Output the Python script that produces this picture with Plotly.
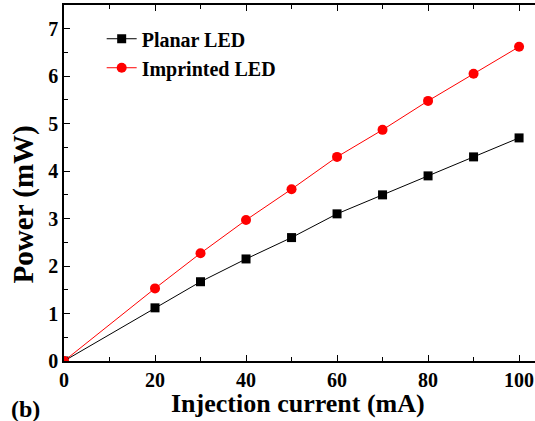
import plotly.graph_objects as go

current = [0, 20, 30, 40, 50, 60, 70, 80, 90, 100]
planar = [0, 1.12, 1.67, 2.15, 2.60, 3.10, 3.50, 3.90, 4.30, 4.70]
imprinted = [0, 1.53, 2.27, 2.97, 3.62, 4.30, 4.87, 5.48, 6.05, 6.62]
font = "Liberation Serif"

fig = go.Figure()
fig.add_trace(go.Scatter(x=current, y=planar, mode="lines+markers", name="<b>Planar LED</b>",
                         line=dict(color="black", width=1),
                         marker=dict(symbol="square", size=9, color="black")))
fig.add_trace(go.Scatter(x=current, y=imprinted, mode="lines+markers", name="<b>Imprinted LED</b>",
                         line=dict(color="red", width=1),
                         marker=dict(symbol="circle", size=10, color="red")))

axis_common = dict(showline=True, linecolor="black", linewidth=1.5,
                   ticks="inside", ticklen=6, tickwidth=1.2, tickcolor="black",
                   showgrid=False, zeroline=False,
                   tickfont=dict(family=font, size=20, color="black"))
fig.update_xaxes(range=[0, 103.5], tick0=0, dtick=20, mirror="ticks",
                 minor=dict(ticks="inside", ticklen=4, dtick=10, tickcolor="black"),
                 tickprefix="<b>", ticksuffix="</b>", **axis_common)
fig.update_yaxes(range=[0, 7.5], tick0=0, dtick=1, mirror=False,
                 minor=dict(ticks="inside", ticklen=4, dtick=0.5, tickcolor="black"),
                 tickprefix="<b>", ticksuffix="</b>", **axis_common)

fig.add_annotation(text="<b>Injection current (mA)</b>", xref="paper", yref="paper", x=0.496, y=-0.118,
                   xanchor="center", yanchor="middle", showarrow=False,
                   font=dict(family=font, size=26, color="black"))
fig.add_annotation(text="<b>Power (mW)</b>", xref="paper", yref="paper", x=-0.087, y=0.44,
                   xanchor="center", yanchor="middle", showarrow=False, textangle=-90,
                   font=dict(family=font, size=29, color="black"))
fig.add_annotation(text="<b>(b)</b>", xref="paper", yref="paper", x=-0.117, y=-0.092,
                   xanchor="left", yanchor="top", showarrow=False,
                   font=dict(family=font, size=24, color="black"))

fig.update_layout(width=535, height=421, margin=dict(l=64, r=0, t=5, b=60),
                  plot_bgcolor="white", paper_bgcolor="white", showlegend=True,
                  legend=dict(x=0.08, y=0.96, xanchor="left", yanchor="top",
                              bgcolor="rgba(0,0,0,0)", font=dict(family=font, size=20, color="black"),
                              tracegroupgap=0, itemwidth=30))
fig.write_html("out.html")
